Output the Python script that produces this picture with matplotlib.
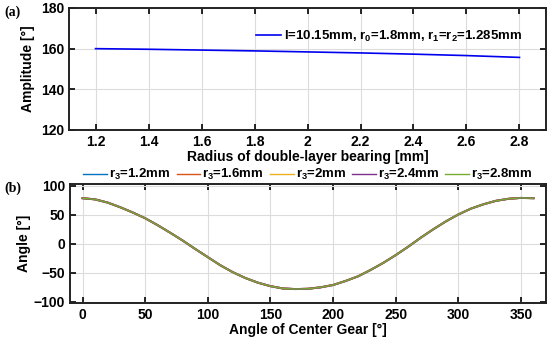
import numpy as np
import matplotlib
matplotlib.use("Agg")
import matplotlib.pyplot as plt

plt.rcParams['font.family'] = ['Liberation Sans', 'DejaVu Sans']
plt.rcParams['font.weight'] = 'bold'
plt.rcParams['axes.labelweight'] = 'bold'
plt.rcParams['font.size'] = 10
plt.rcParams['mathtext.fontset'] = 'custom'
plt.rcParams['mathtext.rm'] = 'Liberation Sans:bold'
plt.rcParams['mathtext.it'] = 'Liberation Sans:bold'
plt.rcParams['mathtext.bf'] = 'Liberation Sans:bold'
plt.rcParams['mathtext.default'] = 'bf'

# (a) amplitude vs radius of double-layer bearing
radius = [1.2, 1.4, 1.6, 1.8, 2.0, 2.2, 2.4, 2.6, 2.8]
amplitude = [160.0, 159.7, 159.3, 158.9, 158.4, 157.9, 157.3, 156.6, 155.7]

# (b) output angle vs angle of center gear, same curve for every r3
gear_angle = list(range(0, 361, 10))
out_angle = [78.5, 76.5, 71, 63, 54, 44, 32, 19, 5.5, -9,
             -23, -37, -49, -59, -67, -73, -77, -78, -77.5, -75,
             -71, -64, -56, -45, -33, -19.5, -5, 10.5, 25, 38.5,
             50.5, 60.5, 68, 74, 77.5, 79, 78.5]
r3_labels = ['1.2', '1.6', '2', '2.4', '2.8']
colors = ['#0072BD', '#D95319', '#EDB120', '#7E2F8E', '#77AC30']


def matlab_style(ax):
    ax.grid(True, color='#dcdcdc', linewidth=0.8)
    ax.set_axisbelow(True)
    ax.tick_params(direction='in', top=True, right=True, length=4, width=1.2,
                   labelsize=10)
    for s in ax.spines.values():
        s.set_linewidth(1.4)
        s.set_color('#222222')


fig = plt.figure(figsize=(5.5, 3.43), dpi=100)

ax1 = fig.add_axes([0.1255, 0.621, 0.8672, 0.3557])
ax1.plot(radius, amplitude, color='#0000ee', linewidth=1.2,
         label=r'l=10.15mm, r$_0$=1.8mm, r$_1$=r$_2$=1.285mm')
ax1.set_xlim(1.1, 2.9)
ax1.set_ylim(120, 180)
ax1.set_xticks(np.arange(1.2, 2.81, 0.2))
ax1.set_xticklabels(['1.2', '1.4', '1.6', '1.8', '2', '2.2', '2.4', '2.6', '2.8'])
ax1.set_yticks([120, 140, 160, 180])
ax1.set_xlabel('Radius of double-layer bearing [mm]', fontsize=10, labelpad=1)
ax1.set_ylabel('Amplitude [°]', fontsize=10)
matlab_style(ax1)
ax1.legend(loc='upper right', bbox_to_anchor=(0.975, 0.93), frameon=False,
           handlelength=1.9, handletextpad=0.2, fontsize=9.5)

ax2 = fig.add_axes([0.1273, 0.1166, 0.8655, 0.347])
for i, (lab, c) in enumerate(zip(r3_labels, colors)):
    lw = 1.0 if i == len(r3_labels) - 1 else 1.4
    ax2.plot(gear_angle, out_angle, color=c, linewidth=lw,
             label=r'r$_3$=' + lab + 'mm')
ax2.set_xlim(-10, 370)
ax2.set_ylim(-102, 103)
ax2.set_xticks(range(0, 351, 50))
ax2.set_yticks([-100, -50, 0, 50, 100])
ax2.set_xlabel('Angle of Center Gear [°]', fontsize=10, labelpad=1)
ax2.set_ylabel('Angle [°]', fontsize=10, labelpad=2)
matlab_style(ax2)
leg = ax2.legend(loc='lower center', bbox_to_anchor=(0.5, 0.97), ncol=5,
                 frameon=False, handlelength=1.8, handletextpad=0.15,
                 columnspacing=0.45, fontsize=9.5, borderaxespad=0)
for h in leg.get_lines():
    h.set_linewidth(1.0)

fig.text(0.008, 0.955, '(a)', family='Liberation Serif', weight='bold', fontsize=10)
fig.text(0.008, 0.44, '(b)', family='Liberation Serif', weight='bold', fontsize=10)

fig.savefig('out.png', dpi=100)
